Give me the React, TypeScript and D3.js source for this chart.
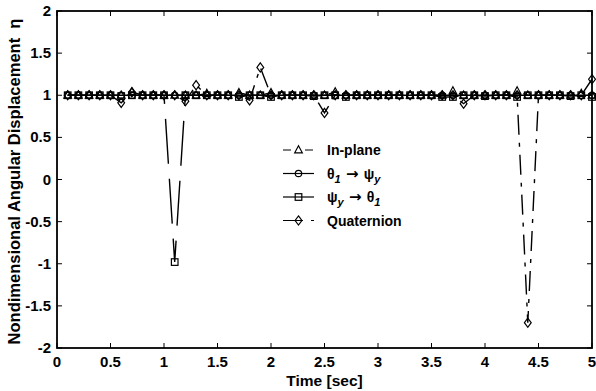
import React from 'react';
import * as d3 from 'd3';

const times = [
  0.1, 0.2, 0.3, 0.4, 0.5, 0.6, 0.7, 0.8, 0.9, 1.0,
  1.1, 1.2, 1.3, 1.4, 1.5, 1.6, 1.7, 1.8, 1.9, 2.0,
  2.1, 2.2, 2.3, 2.4, 2.5, 2.6, 2.7, 2.8, 2.9, 3.0,
  3.1, 3.2, 3.3, 3.4, 3.5, 3.6, 3.7, 3.8, 3.9, 4.0,
  4.1, 4.2, 4.3, 4.4, 4.5, 4.6, 4.7, 4.8, 4.9, 5.0,
];

const inPlane = [
  1, 1, 1, 1, 1, 1, 1.04, 1, 1, 1,
  1, 1, 1, 1.02, 1, 1, 1.03, 1, 1, 1.03,
  1, 1, 1, 1, 1, 1.04, 1, 1, 1, 1,
  1, 1, 1, 1, 1, 1, 1.05, 1, 1, 1,
  1, 1, 1.05, 1, 1, 1, 1, 1, 1.02, 1,
];

const theta1ToPsiy = [
  1, 1, 1, 1, 1, 1, 1, 1, 1, 1,
  1, 1, 1, 1, 1, 1, 1, 1, 1, 1,
  1, 1, 1, 1, 1, 1, 1, 1, 1, 1,
  1, 1, 1, 1, 1, 1, 1, 1, 1, 1,
  1, 1, 1, 1, 1, 1, 1, 1, 1, 1,
];

const psiyToTheta1 = [
  1, 1, 1, 1, 1, 0.99, 1, 1, 1, 1,
  -0.98, 1, 1, 1, 1, 1, 0.98, 1, 1, 0.98,
  1, 1, 1, 0.99, 1, 1, 0.98, 1, 1, 1,
  1, 1, 1, 1, 1, 0.98, 0.98, 1, 1, 0.99,
  1, 1, 0.98, 1, 1, 1, 1, 0.99, 1, 0.98,
];

const quaternion = [
  1, 1, 1, 1, 1, 0.91, 1.035, 1, 1, 1,
  1, 0.93, 1.12, 1, 1, 1, 1, 0.94, 1.33, 1,
  1, 1, 1, 1, 0.79, 1, 1, 1, 1, 1,
  1, 1, 1, 1, 1, 1, 1, 0.9, 1, 1,
  1, 1, 1, -1.7, 1, 1, 1, 1, 1, 1.19,
];

const xTicks = [0, 0.5, 1, 1.5, 2, 2.5, 3, 3.5, 4, 4.5, 5];
const yTicks = [-2, -1.5, -1, -0.5, 0, 0.5, 1, 1.5, 2];

const W = 596;
const H = 391;
const L = 57, R = 592, T = 11, B = 348;
const FONT = '"Liberation Sans", Arial, Helvetica, sans-serif';

type Shape = 'triangle' | 'circle' | 'square' | 'diamond';

const series: { key: string; values: number[]; shape: Shape; dash: string }[] = [
  { key: 'inplane', values: inPlane, shape: 'triangle', dash: '8,14' },
  { key: 'theta', values: theta1ToPsiy, shape: 'circle', dash: '' },
  { key: 'psi', values: psiyToTheta1, shape: 'square', dash: '45,15' },
  { key: 'quat', values: quaternion, shape: 'diamond', dash: '20,8,4,8' },
];

function Marker({ shape, x, y }: { shape: Shape; x: number; y: number }) {
  const common = { fill: 'none', stroke: '#000', strokeWidth: 1.2 };
  if (shape === 'circle') return <circle cx={x} cy={y} r={3.2} {...common} />;
  if (shape === 'square') return <rect x={x - 3.3} y={y - 3.3} width={6.6} height={6.6} {...common} />;
  if (shape === 'triangle')
    return <path d={`M${x},${y - 4.2}L${x + 3.8},${y + 2.8}L${x - 3.8},${y + 2.8}Z`} {...common} />;
  return <path d={`M${x},${y - 4.6}L${x + 3.4},${y}L${x},${y + 4.6}L${x - 3.4},${y}Z`} {...common} />;
}

export default function App() {
  const x = d3.scaleLinear().domain([0, 5]).range([L, R]);
  const y = d3.scaleLinear().domain([-2, 2]).range([B, T]);
  const line = d3
    .line<number>()
    .x((_, i) => x(times[i]))
    .y((d) => y(d));

  const legendRows = [
    { shape: 'triangle' as Shape, dash: '8,14', y: 150 },
    { shape: 'circle' as Shape, dash: '', y: 173.5 },
    { shape: 'square' as Shape, dash: '45,15', y: 197 },
    { shape: 'diamond' as Shape, dash: '20,8,4,8', y: 220.5 },
  ];
  const lx0 = 283, lx1 = 314, lmx = 298.5, tx = 327;
  const ARROW_FONT = '"DejaVu Sans", sans-serif';

  return (
    <svg
      width={W}
      height={H}
      style={{ position: 'absolute', left: 0, top: 0, background: '#fff' }}
      fontFamily={FONT}
    >
      <rect x={0} y={0} width={W} height={H} fill="#fff" />
      {series.map((s) => (
        <path
          key={s.key}
          d={line(s.values) || ''}
          fill="none"
          stroke="#000"
          strokeWidth={1.4}
          strokeDasharray={s.dash || undefined}
        />
      ))}
      {series.map((s) => (
        <g key={s.key + '-m'}>
          {s.values.map((v, i) => (
            <Marker key={i} shape={s.shape} x={x(times[i])} y={y(v)} />
          ))}
        </g>
      ))}
      <rect x={L} y={T} width={R - L} height={B - T} fill="none" stroke="#000" strokeWidth={1.8} />
      {xTicks.map((t) => (
        <g key={'xt' + t}>
          <line x1={x(t)} x2={x(t)} y1={B} y2={B - 5} stroke="#000" strokeWidth={1} />
          <line x1={x(t)} x2={x(t)} y1={T} y2={T + 5} stroke="#000" strokeWidth={1} />
          <text x={x(t)} y={B + 19} textAnchor="middle" fontSize={15} fontWeight="bold">
            {String(t)}
          </text>
        </g>
      ))}
      {yTicks.map((t) => (
        <g key={'yt' + t}>
          <line x1={L} x2={L + 5} y1={y(t)} y2={y(t)} stroke="#000" strokeWidth={1} />
          <line x1={R} x2={R - 5} y1={y(t)} y2={y(t)} stroke="#000" strokeWidth={1} />
          <text x={L - 6} y={y(t) + 5} textAnchor="end" fontSize={15} fontWeight="bold">
            {String(t)}
          </text>
        </g>
      ))}
      <text x={(L + R) / 2} y={386} textAnchor="middle" fontSize={15.5} fontWeight="bold">
        Time [sec]
      </text>
      <text
        transform={`translate(20,${(T + B) / 2 + 2}) rotate(-90)`}
        textAnchor="middle"
        fontSize={16.5}
        fontWeight="bold"
      >
        {'Nondimensional Angular Displacement\u00a0\u00a0η'}
      </text>
      {legendRows.map((r, i) => (
        <g key={'lg' + i}>
          <line
            x1={lx0}
            x2={lx1}
            y1={r.y}
            y2={r.y}
            stroke="#000"
            strokeWidth={1.2}
            strokeDasharray={r.dash || undefined}
          />
          <Marker shape={r.shape} x={lmx} y={r.y} />
        </g>
      ))}
      <g fontSize={14} fontWeight="bold">
        <text x={tx} y={legendRows[0].y + 5}>In-plane</text>
        <text x={tx} y={legendRows[1].y + 5}>
          θ<tspan fontSize={11} fontStyle="italic" dy={4}>1</tspan>
          <tspan dy={-4} fontFamily={ARROW_FONT} fontSize={15}>{' \u2192 '}</tspan>
          <tspan>ψ</tspan>
          <tspan fontSize={11} fontStyle="italic" dy={4}>y</tspan>
        </text>
        <text x={tx} y={legendRows[2].y + 5}>
          ψ<tspan fontSize={11} fontStyle="italic" dy={4}>y</tspan>
          <tspan dy={-4} fontFamily={ARROW_FONT} fontSize={15}>{' \u2192 '}</tspan>
          <tspan>θ</tspan>
          <tspan fontSize={11} fontStyle="italic" dy={4}>1</tspan>
        </text>
        <text x={tx} y={legendRows[3].y + 5}>Quaternion</text>
      </g>
    </svg>
  );
}
